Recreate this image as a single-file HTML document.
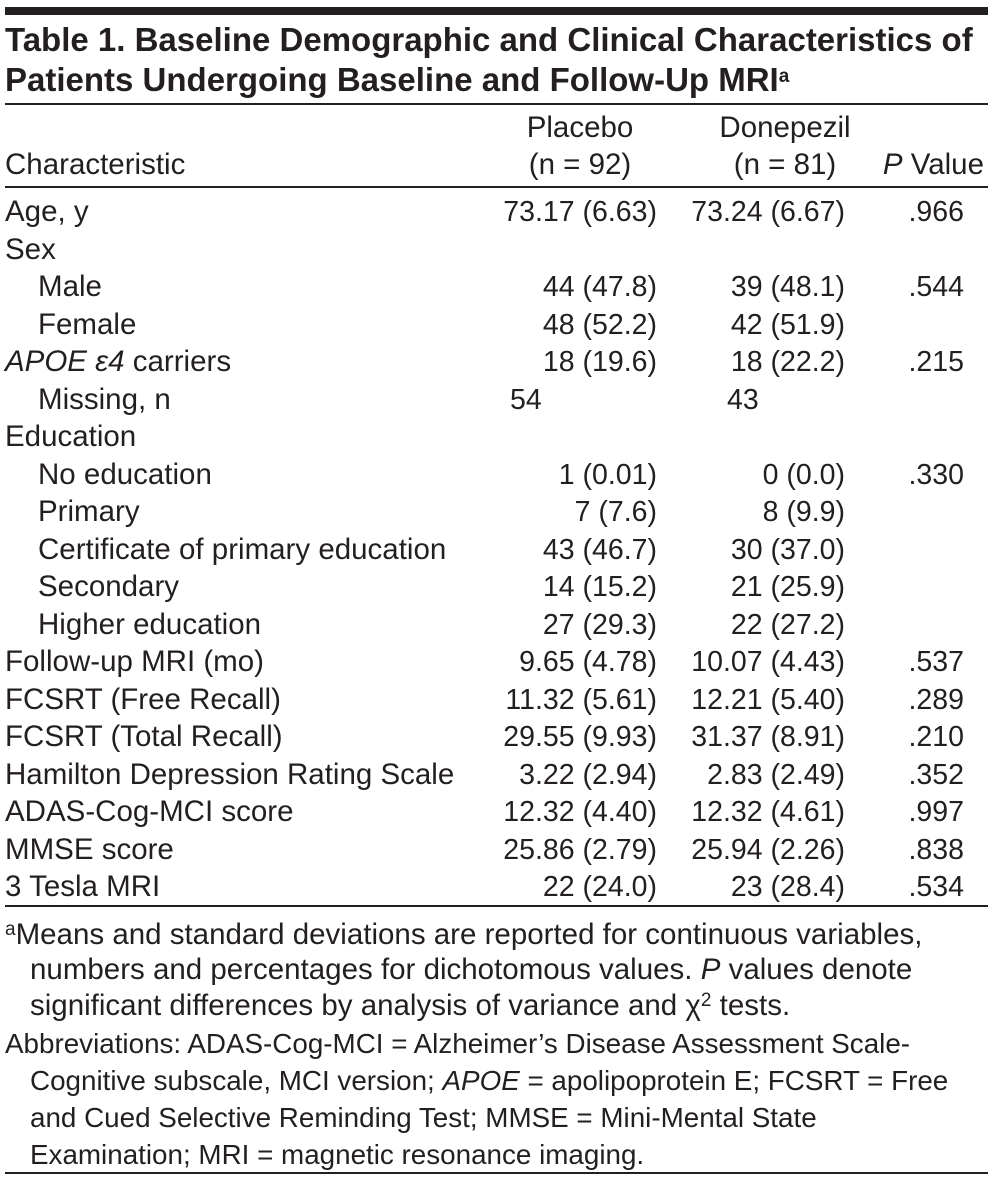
<!DOCTYPE html>
<html><head><meta charset="utf-8"><style>
body{margin:0;background:#fff;}
#t{position:relative;width:992px;height:1181px;font-family:"Liberation Sans",sans-serif;color:#231f20;overflow:hidden;}
.r{position:absolute;font-size:29.5px;line-height:28px;white-space:nowrap;}
.v{font-size:28.5px;}
.ab{font-size:27.8px;}
.b{font-weight:bold;font-size:33px;line-height:30px;}
.rule{position:absolute;left:5px;width:983px;background:#231f20;}
sup{font-size:19px;line-height:0;vertical-align:9px;}
</style></head><body>
<div id="t">
<div class="rule" style="top:7px;height:8px"></div>
<div class="r b" style="left:5px;top:25px">Table 1. Baseline Demographic and Clinical Characteristics of</div>
<div class="r b" style="left:5px;top:65px">Patients Undergoing Baseline and Follow-Up MRI<sup>a</sup></div>
<div class="rule" style="top:103px;height:2px"></div>
<div class="r" style="left:480px;width:200px;top:114px;text-align:center">Placebo</div>
<div class="r" style="left:480px;width:200px;top:151px;text-align:center">(n = 92)</div>
<div class="r" style="left:685px;width:200px;top:114px;text-align:center">Donepezil</div>
<div class="r" style="left:685px;width:200px;top:151px;text-align:center">(n = 81)</div>
<div class="r" style="left:5px;top:151px">Characteristic</div>
<div class="r" style="right:8px;top:151px"><i>P</i> Value</div>
<div class="rule" style="top:186px;height:2px"></div>
<div class="rule" style="top:905px;height:2px"></div>
<div class="r" style="left:5px;top:921px"><sup>a</sup>Means and standard deviations are reported for continuous variables,</div>
<div class="r" style="left:30px;top:956px">numbers and percentages for dichotomous values. <i>P</i> values denote</div>
<div class="r" style="left:30px;top:992px">significant differences by analysis of variance and χ<sup>2</sup> tests.</div>
<div class="r ab" style="left:5px;top:1030px">Abbreviations: ADAS-Cog-MCI = Alzheimer’s Disease Assessment Scale-</div>
<div class="r ab" style="left:30px;top:1067px">Cognitive subscale, MCI version; <i>APOE</i> = apolipoprotein E; FCSRT = Free</div>
<div class="r ab" style="left:30px;top:1104px">and Cued Selective Reminding Test; MMSE = Mini-Mental State</div>
<div class="r ab" style="left:30px;top:1141px">Examination; MRI = magnetic resonance imaging.</div>
<div class="rule" style="top:1172px;height:2px"></div>
</div>
<script>
const labels=["Age, y","Sex","Male","Female","<i>APOE ε4</i> carriers","Missing, n","Education","No education","Primary","Certificate of primary education","Secondary","Higher education","Follow-up MRI (mo)","FCSRT (Free Recall)","FCSRT (Total Recall)","Hamilton Depression Rating Scale","ADAS-Cog-MCI score","MMSE score","3 Tesla MRI"];
const indent=[0,0,1,1,0,1,0,1,1,1,1,1,0,0,0,0,0,0,0];
const placebo=["73.17 (6.63)","","44 (47.8)","48 (52.2)","18 (19.6)","54","","1 (0.01)","7 (7.6)","43 (46.7)","14 (15.2)","27 (29.3)","9.65 (4.78)","11.32 (5.61)","29.55 (9.93)","3.22 (2.94)","12.32 (4.40)","25.86 (2.79)","22 (24.0)"];
const donepezil=["73.24 (6.67)","","39 (48.1)","42 (51.9)","18 (22.2)","43","","0 (0.0)","8 (9.9)","30 (37.0)","21 (25.9)","22 (27.2)","10.07 (4.43)","12.21 (5.40)","31.37 (8.91)","2.83 (2.49)","12.32 (4.61)","25.94 (2.26)","23 (28.4)"];
const pvals=[".966","",".544","",".215","","",".330","","","","",".537",".289",".210",".352",".997",".838",".534"];
const host=document.getElementById('t');
labels.forEach((lab,i)=>{
  const top=198+i*37.5;
  const mk=(html,style,name,cls)=>{const d=document.createElement('div');d.className='r'+(cls||'');d.innerHTML=html;d.style.cssText=style+';top:'+top+'px';
  
  
  host.appendChild(d);};
  mk(lab,'left:'+(indent[i]?38:5)+'px','row-label');
  const left=(i===5);
  if(placebo[i])mk(placebo[i],left?'left:510px':'right:335px','placebo-value',' v');
  if(donepezil[i])mk(donepezil[i],left?'left:727px':'right:147px','donepezil-value',' v');
  if(pvals[i])mk(pvals[i],'right:28px','p-value',' v');
});
</script>
</body></html>
